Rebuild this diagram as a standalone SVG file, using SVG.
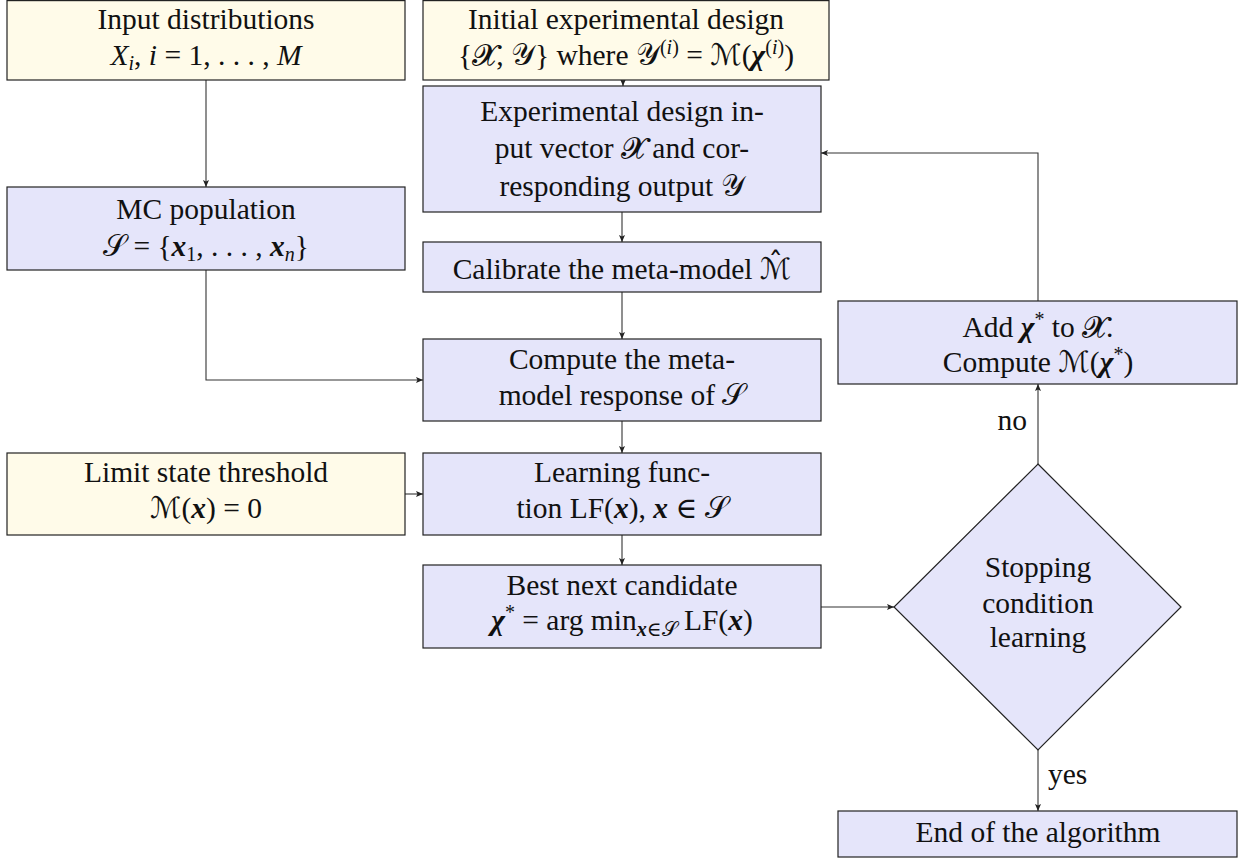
<svg xmlns="http://www.w3.org/2000/svg" width="1239" height="858" viewBox="0 0 1239 858">
<style>
.t{font-family:"Liberation Serif","DejaVu Serif",serif;font-size:29.5px;fill:#111;text-anchor:middle}
.l{font-family:"Liberation Serif","DejaVu Serif",serif;font-size:29.5px;fill:#111}
.i{font-style:italic}
.bi{font-style:italic;font-weight:bold}
.m{font-family:"DejaVu Serif","DejaVu Sans","Liberation Serif",serif;font-style:normal}
.s{font-size:20px}
.y{fill:#fffbe9;stroke:#222;stroke-width:1.2}
.b{fill:#e5e5fa;stroke:#222;stroke-width:1.2}
.c{fill:none;stroke:#333;stroke-width:1.1;marker-end:url(#ah)}
</style>
<defs>
<marker id="ah" markerUnits="userSpaceOnUse" markerWidth="8" markerHeight="8" refX="7" refY="3" orient="auto">
<path d="M0,0 L7,3 L0,6 L1.5,3 Z" fill="#222"/>
</marker>
</defs>
<g id="connectors">
<path class="c" d="M206,80 V187"/>
<path class="c" d="M623,80 V86"/>
<path class="c" d="M622,212 V242"/>
<path class="c" d="M622,292 V339"/>
<path class="c" d="M206,270 V380 H423"/>
<path class="c" d="M622,421 V453"/>
<path class="c" d="M405,494 H423"/>
<path class="c" d="M622,535 V565"/>
<path class="c" d="M821,607 H894"/>
<path class="c" d="M1038,464 V384"/>
<path class="c" d="M1038,750 V811"/>
<path class="c" d="M1038,301 V153 H821"/>
<text class="l" x="1027" y="430" text-anchor="end">no</text>
<text class="l" x="1048" y="784">yes</text>
</g>
<g id="input">
<rect class="y" x="7" y="0.6" width="398" height="79.4"/>
<text class="t" x="206" y="29">Input distributions</text>
<text class="t" x="206" y="65"><tspan class="i">X</tspan><tspan class="i s" dy="5">i</tspan><tspan dy="-5">, </tspan><tspan class="i">i</tspan> = 1, . . . , <tspan class="i">M</tspan></text>
</g>
<g id="initial">
<rect class="y" x="423" y="0.6" width="406" height="79.4"/>
<text class="t" x="626" y="29">Initial experimental design</text>
<text class="t" x="626" y="65">{<tspan class="m">𝓧</tspan>, <tspan class="m">𝒴</tspan>} where <tspan class="m">𝒴</tspan><tspan class="s" dy="-11">(<tspan class="i">i</tspan>)</tspan><tspan dy="11"> = </tspan><tspan class="m">ℳ</tspan>(<tspan class="bi">χ</tspan><tspan class="s" dy="-11">(<tspan class="i">i</tspan>)</tspan><tspan dy="11">)</tspan></text>
</g>
<g id="expdesign">
<rect class="b" x="423" y="86" width="398" height="126"/>
<text class="t" x="622" y="121">Experimental design in-</text>
<text class="t" x="622" y="158">put vector <tspan class="m">𝓧</tspan> and cor-</text>
<text class="t" x="622" y="196">responding output <tspan class="m">𝒴</tspan></text>
</g>
<g id="mc">
<rect class="b" x="7" y="187" width="398" height="83"/>
<text class="t" x="206" y="219">MC population</text>
<text class="t" x="206" y="256"><tspan class="m">𝒮</tspan> = {<tspan class="bi">x</tspan><tspan class="s" dy="5">1</tspan><tspan dy="-5">, . . . , </tspan><tspan class="bi">x</tspan><tspan class="i s" dy="5">n</tspan><tspan dy="-5">}</tspan></text>
</g>
<g id="calibrate">
<rect class="b" x="423" y="242" width="398" height="50"/>
<text class="t" x="622" y="279">Calibrate the meta-model <tspan class="m">ℳ̂</tspan></text>
</g>
<g id="compute">
<rect class="b" x="423" y="339" width="398" height="82"/>
<text class="t" x="622" y="369">Compute the meta-</text>
<text class="t" x="622" y="405">model response of <tspan class="m">𝒮</tspan></text>
</g>
<g id="limit">
<rect class="y" x="7" y="453" width="398" height="82"/>
<text class="t" x="206" y="482">Limit state threshold</text>
<text class="t" x="206" y="518"><tspan class="m">ℳ</tspan>(<tspan class="bi">x</tspan>) = 0</text>
</g>
<g id="learning">
<rect class="b" x="423" y="453" width="398" height="82"/>
<text class="t" x="622" y="482">Learning func-</text>
<text class="t" x="622" y="518">tion LF(<tspan class="bi">x</tspan>),  <tspan class="bi">x</tspan> ∈ <tspan class="m">𝒮</tspan></text>
</g>
<g id="best">
<rect class="b" x="423" y="565" width="398" height="83"/>
<text class="t" x="622" y="595">Best next candidate</text>
<text class="t" x="622" y="630"><tspan class="bi">χ</tspan><tspan class="s" dy="-11">*</tspan><tspan dy="11"> = arg min</tspan><tspan class="s" dy="6"><tspan class="bi">x</tspan>∈<tspan class="m">𝒮</tspan></tspan><tspan dy="-6"> LF(</tspan><tspan class="bi">x</tspan>)</text>
</g>
<g id="stopping">
<path class="b" d="M1038,464 L1181,607 L1038,750 L894,607 Z"/>
<text class="t" x="1038" y="577">Stopping</text>
<text class="t" x="1038" y="613">condition</text>
<text class="t" x="1038" y="647">learning</text>
</g>
<g id="add">
<rect class="b" x="838" y="301" width="399" height="83"/>
<text class="t" x="1038" y="337">Add <tspan class="bi">χ</tspan><tspan class="s" dy="-11">*</tspan><tspan dy="11"> to </tspan><tspan class="m">𝓧</tspan>.</text>
<text class="t" x="1038" y="372">Compute <tspan class="m">ℳ</tspan>(<tspan class="bi">χ</tspan><tspan class="s" dy="-11">*</tspan><tspan dy="11">)</tspan></text>
</g>
<g id="end">
<rect class="b" x="838" y="811" width="399" height="46"/>
<text class="t" x="1038" y="842">End of the algorithm</text>
</g>
</svg>
